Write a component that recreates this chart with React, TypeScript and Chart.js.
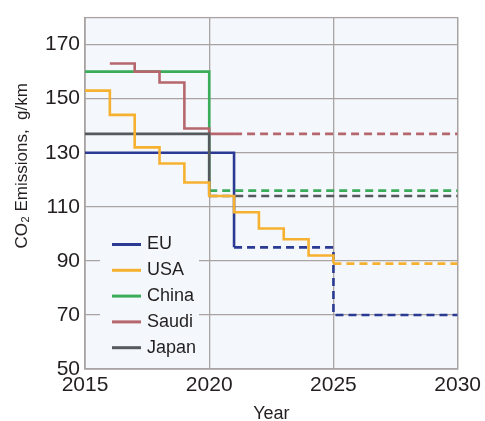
import React, { useEffect, useRef } from "react";
import { Chart, registerables } from "chart.js";

Chart.register(...registerables);

// Fleet CO2 emission standards (g/km): historical values then targets (dashed)
const seriesNames = ["EU", "USA", "China", "Saudi", "Japan"];
const seriesColors = ["#2b3a92", "#f7b130", "#3aac5a", "#b5676d", "#55585c"];

const euYears = [2015, 2021, 2025, 2030];
const euValues = [130, 95, 70, 70];
const usaYears = [2015, 2016, 2017, 2018, 2019, 2020, 2021, 2022, 2023, 2024, 2025, 2030];
const usaValues = [153, 144, 132, 126, 119, 114, 108, 102, 98, 92, 89, 89];
const chinaYears = [2015, 2020, 2030];
const chinaValues = [160, 116, 116];
const saudiYears = [2016, 2017, 2018, 2019, 2020, 2021, 2030];
const saudiValues = [163, 160, 156, 139, 137, 137, 137];
const japanYears = [2015, 2020, 2030];
const japanValues = [137, 114, 114];

// Year from which each series is a future target (drawn dashed)
const targetFrom = [2021, 2025, 2020, 2021, 2020];

const xTicks = [2015, 2020, 2025, 2030];
const yTicks = [50, 70, 90, 110, 130, 150, 170];
const yMin = 50;
const yMax = 180;

const xTitle = "Year";
const yTitleMain = "CO";
const yTitleSub = "2";
const yTitleRest = " Emissions,  g/km";

const FONT = "'Liberation Sans', Arial, Helvetica, sans-serif";
const TEXT = "#231f20";
const GRID = "#aaa3a3";
const PLOT_BG = "#f4f7fb";

const seriesYears = [euYears, usaYears, chinaYears, saudiYears, japanYears];
const seriesValues = [euValues, usaValues, chinaValues, saudiValues, japanValues];
// drawing order: lower numbers end up on top
const drawOrder = [3, 1, 5, 4, 2];

const legendBox = { x: 100, y: 228, w: 99, h: 134 };

const decorPlugin = {
  id: "decor",
  beforeDraw(chart: any) {
    const { ctx, chartArea: a } = chart;
    ctx.save();
    ctx.fillStyle = "#ffffff";
    ctx.fillRect(0, 0, chart.width, chart.height);
    ctx.fillStyle = PLOT_BG;
    ctx.fillRect(a.left, a.top, a.right - a.left, a.bottom - a.top);
    ctx.restore();
  },
  beforeDatasetsDraw(chart: any) {
    const { ctx, chartArea: a } = chart;
    ctx.save();
    // legend backdrop hides the grid behind it
    ctx.fillStyle = PLOT_BG;
    ctx.fillRect(legendBox.x, legendBox.y, legendBox.w, legendBox.h);
    // plot frame
    ctx.strokeStyle = GRID;
    ctx.lineWidth = 1.3;
    ctx.strokeRect(a.left, a.top, a.right - a.left, a.bottom - a.top);
    ctx.restore();
  },
  afterDatasetsDraw(chart: any) {
    const { ctx, chartArea: a } = chart;
    ctx.save();
    // legend
    const rowTop = 244.5;
    const rowStep = 25.8;
    ctx.font = `18px ${FONT}`;
    ctx.textBaseline = "middle";
    ctx.textAlign = "left";
    seriesNames.forEach((name, i) => {
      const y = rowTop + i * rowStep;
      ctx.strokeStyle = seriesColors[i];
      ctx.lineWidth = 3;
      ctx.beginPath();
      ctx.moveTo(112, y);
      ctx.lineTo(141, y);
      ctx.stroke();
      ctx.fillStyle = TEXT;
      ctx.fillText(name, 147, y);
    });

    // x axis title
    ctx.font = `18px ${FONT}`;
    ctx.textAlign = "center";
    ctx.textBaseline = "alphabetic";
    ctx.fillText(xTitle, (a.left + a.right) / 2, 419);

    // y axis title with subscript
    ctx.translate(22, 166);
    ctx.rotate(-Math.PI / 2);
    ctx.textAlign = "left";
    ctx.textBaseline = "middle";
    ctx.font = `17px ${FONT}`;
    const wMain = ctx.measureText(yTitleMain).width;
    const wRest = ctx.measureText(yTitleRest).width;
    ctx.font = `11px ${FONT}`;
    const wSub = ctx.measureText(yTitleSub).width;
    let x = -(wMain + wSub + wRest) / 2;
    ctx.font = `17px ${FONT}`;
    ctx.fillText(yTitleMain, x, 0);
    x += wMain;
    ctx.font = `11px ${FONT}`;
    ctx.fillText(yTitleSub, x + 0.5, 4);
    x += wSub + 0.5;
    ctx.font = `17px ${FONT}`;
    ctx.fillText(yTitleRest, x, 0);
    ctx.restore();
  },
};

export default function App() {
  const canvasRef = useRef<HTMLCanvasElement | null>(null);

  useEffect(() => {
    if (!canvasRef.current) return;
    const datasets = seriesNames.map((name, i) => {
      const from = targetFrom[i];
      return {
        label: name,
        data: seriesYears[i].map((yr, k) => ({ x: yr, y: seriesValues[i][k] })),
        borderColor: seriesColors[i],
        backgroundColor: seriesColors[i],
        borderWidth: 2.6,
        borderCapStyle: "butt" as const,
        pointRadius: 0,
        // horizontal run to the next year, then the change
        stepped: "before" as const,
        fill: false,
        order: drawOrder[i],
        segment: {
          borderDash: (c: any) => (c.p0.parsed.x >= from ? [8, 5] : undefined),
        },
      };
    });

    const chart = new Chart(canvasRef.current, {
      type: "line",
      data: { datasets },
      options: {
        animation: false,
        responsive: false,
        devicePixelRatio: 1,
        layout: { padding: { top: 13, right: 25, left: 0, bottom: 0 } },
        plugins: {
          legend: { display: false },
          tooltip: { enabled: false },
        },
        scales: {
          x: {
            type: "linear",
            min: 2015,
            max: 2030,
            afterBuildTicks: (s: any) => {
              s.ticks = xTicks.map((v) => ({ value: v }));
            },
            afterFit: (s: any) => {
              s.height = 52;
            },
            grid: {
              color: GRID,
              lineWidth: 1.3,
              drawTicks: false,
            },
            border: { display: true, color: GRID, width: 1.3 },
            ticks: {
              padding: 4,
              color: TEXT,
              font: { family: FONT, size: 21 },
              maxRotation: 0,
              callback: (v: any) => String(v),
            },
          },
          y: {
            type: "linear",
            min: yMin,
            max: yMax,
            afterBuildTicks: (s: any) => {
              s.ticks = yTicks.map((v) => ({ value: v }));
            },
            afterFit: (s: any) => {
              s.width = 85;
            },
            grid: {
              color: GRID,
              lineWidth: 1.3,
              drawTicks: false,
            },
            border: { display: true, color: GRID, width: 1.3 },
            ticks: {
              padding: 5,
              color: TEXT,
              font: { family: FONT, size: 21 },
            },
          },
        },
      },
      plugins: [decorPlugin],
    });
    return () => chart.destroy();
  }, []);

  return (
    <div style={{ position: "fixed", left: 0, top: 0, width: 485, height: 421 }}>
      <canvas ref={canvasRef} width={485} height={421} style={{ display: "block" }} />
    </div>
  );
}
